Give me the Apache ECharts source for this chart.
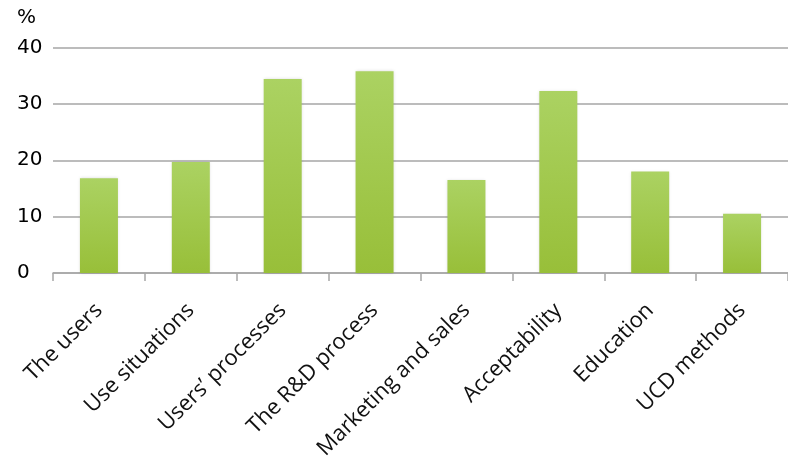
<!DOCTYPE html>
<html>
<head>
<meta charset="utf-8">
<script src="https://cdn.jsdelivr.net/npm/echarts@6/dist/echarts.min.js"></script>
<style>html,body{margin:0;padding:0;background:#fff}#c{width:788px;height:465px}</style>
</head>
<body>
<div id="c"></div>
<script>
const categories = ["The users", "Use situations", "Users\u2019 processes", "The R&D process", "Marketing and sales", "Acceptability", "Education", "UCD methods"];
const values = [16.8, 19.7, 34.4, 35.8, 16.5, 32.3, 18.0, 10.5];
const yTicks = [0, 10, 20, 30, 40];

const chart = echarts.init(document.getElementById('c'), null, {renderer: 'canvas'});
chart.setOption({
  animation: false,
  grid: {left: 53, right: -5, top: 47.5, bottom: 192},
  xAxis: {
    type: 'category',
    data: categories,
    axisLine: {show: true, lineStyle: {color: '#a6a6a6', width: 1.5}},
    axisTick: {show: true, length: 8, alignWithLabel: false, lineStyle: {color: '#a6a6a6', width: 1.5}},
    axisLabel: {
      rotate: 45, interval: 0, margin: 34,
      fontFamily: 'Open Sans', fontSize: 22, color: '#111'
    }
  },
  yAxis: {
    type: 'value', min: yTicks[0], max: yTicks[yTicks.length - 1], interval: 10,
    name: '%', nameLocation: 'end', nameGap: 20,
    nameTextStyle: {fontFamily: 'DejaVu Sans', fontSize: 20, color: '#000', align: 'left', padding: [0, 0, 0, -36]},
    axisLine: {show: false},
    axisTick: {show: false},
    splitLine: {lineStyle: {color: '#a6a6a6', width: 1.5}},
    axisLabel: {
      fontFamily: 'DejaVu Sans', fontSize: 20, color: '#000', align: 'left', margin: 36,
      formatter: v => yTicks.includes(v) ? String(v) : ''
    }
  },
  series: [{
    type: 'bar',
    data: values,
    barWidth: 38,
    itemStyle: {
      color: new echarts.graphic.LinearGradient(0, 0, 0, 1, [
        {offset: 0, color: '#abd262'},
        {offset: 1, color: '#98bf39'}
      ]),
      shadowColor: 'rgba(0,0,0,0.15)', shadowBlur: 3
    }
  }]
});
</script>
</body>
</html>
